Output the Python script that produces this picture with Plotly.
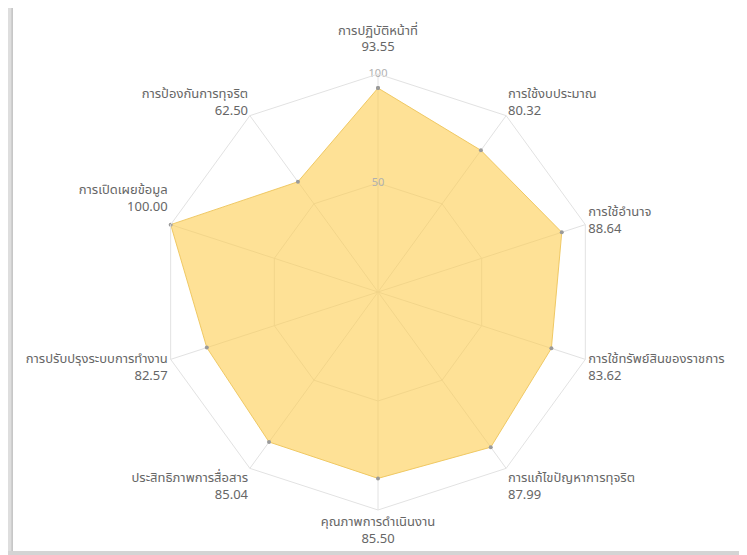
import plotly.graph_objects as go

categories = [
    "การปฏิบัติหน้าที่",
    "การใช้งบประมาณ",
    "การใช้อำนาจ",
    "การใช้ทรัพย์สินของราชการ",
    "การแก้ไขปัญหาการทุจริต",
    "คุณภาพการดำเนินงาน",
    "ประสิทธิภาพการสื่อสาร",
    "การปรับปรุงระบบการทำงาน",
    "การเปิดเผยข้อมูล",
    "การป้องกันการทุจริต",
]
scores = [93.55, 80.32, 88.64, 83.62, 87.99, 85.50, 85.04, 82.57, 100.00, 62.50]
radial_ticks = [50, 100]
radial_tick_labels = ["50", "100"]

# trailing blank lines nudge a few labels outward like the reference
label_pad = {0: 1, 8: 2}
tick_text = []
for i, (c, v) in enumerate(zip(categories, scores)):
    t = f"{c}<br>{v:.2f}"
    t += "<br>\u00a0" * label_pad.get(i, 0)
    tick_text.append(t)

fig = go.Figure()
fig.add_trace(go.Scatterpolar(
    r=scores + scores[:1],
    theta=categories + categories[:1],
    mode="lines+markers",
    fill="toself",
    fillcolor="rgba(253,205,80,0.6)",
    line=dict(color="rgba(238,198,95,0.95)", width=1),
    marker=dict(color="#9a9a9a", size=4),
    hoverinfo="skip",
    showlegend=False,
))
fig.add_trace(go.Scatterpolar(
    r=radial_ticks,
    theta=[categories[0]] * len(radial_ticks),
    mode="text",
    text=radial_tick_labels,
    textposition="middle center",
    textfont=dict(color="#b0b0b0", size=11),
    hoverinfo="skip",
    showlegend=False,
))

font_family = "Noto Sans Thai, Noto Sans, sans-serif"
fig.update_layout(
    width=739, height=547,
    margin=dict(l=152, r=151, t=66, b=45),
    paper_bgcolor="white",
    font=dict(family=font_family, color="#666666", size=13),
    polar=dict(
        bgcolor="white",
        gridshape="linear",
        angularaxis=dict(
            direction="clockwise", rotation=90,
            tickmode="array", tickvals=categories, ticktext=tick_text,
            gridcolor="#e2e2e2", linecolor="#e2e2e2", showline=True,
            ticks="", tickfont=dict(size=13, color="#666666"),
        ),
        radialaxis=dict(
            range=[0, 100], tickvals=radial_ticks, showticklabels=False,
            gridcolor="#e2e2e2", showline=False, ticks="",
        ),
    ),
    shapes=[
        dict(type="rect", xref="paper", yref="paper", x0=-0.36, x1=-0.339, y0=-0.12, y1=1.2,
             fillcolor="#dedede", line=dict(width=0), layer="above"),
        dict(type="line", xref="paper", yref="paper", x0=-0.339, x1=-0.339, y0=-0.094, y1=1.16,
             line=dict(color="#c4c4c4", width=1.5), layer="above"),
        dict(type="rect", xref="paper", yref="paper", x0=1.3326, x1=1.345, y0=-0.094, y1=1.16,
             fillcolor="#cfcfcf", line=dict(width=0), layer="above"),
        dict(type="rect", xref="paper", yref="paper", x0=-0.36, x1=1.36, y0=-0.12, y1=-0.094,
             fillcolor="#d4d4d4", line=dict(width=0), layer="above"),
    ],
)

fig.write_html("out.html")
